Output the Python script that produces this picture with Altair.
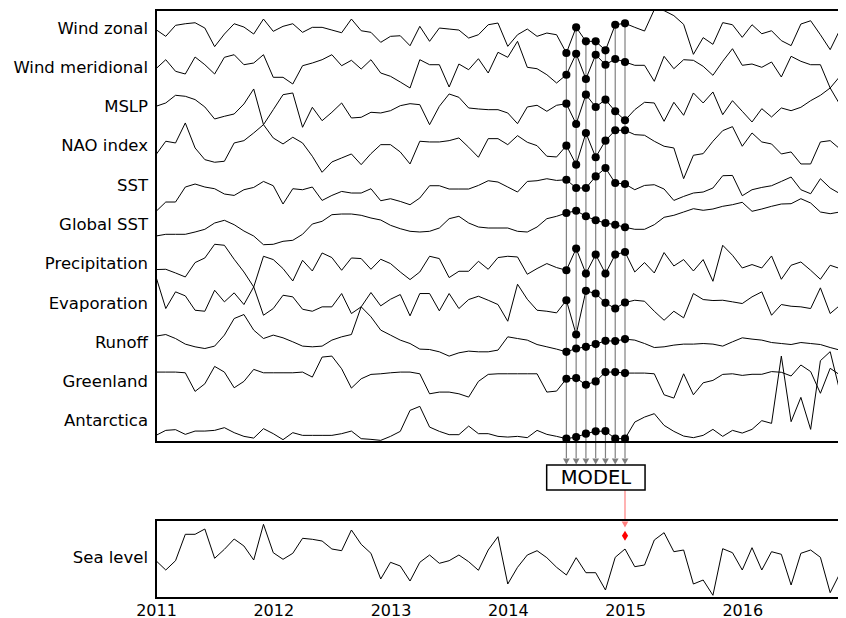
import altair as alt
import pandas as pd

# ---------------- data (anomalies, arbitrary units) -------------
series_names = ["Wind zonal", "Wind meridional", "MSLP", "NAO index", "SST", "Global SST",
                "Precipitation", "Evaporation", "Runoff", "Greenland", "Antarctica"]

wind_zonal = [
    0, -6.7, 4.3, 5.9, 6.9, 1.6, -17, -4.4, 5.9, 2.6, -4.4, 10.6, -1.7, 3.3, 5.9, -2.7, 2.3, 2.3, -0.4, -3.1, 10.6, -1.1, -2.7, -12.7,
    -6.7, -6.1, -16.1, 3.3, -11.7, 1.6, 0.6, -0.4, -8.4, -5.1, 4.9, 6.6, -16.7, -5.1, 0.6, -6.7, -3.4, -5.1, -23.4, 2.3, -11.7, -11.7, -20.7, 4.9,
    6.3, 2.3, -1.4, 20, 19, 14, 5.3, -24.7, -8, -14.7, 7, 4.9, -7.7, 4.9, -4.1, -1.1, -11, -16, 5.6, 8.9, -5.1, -20, 0, 8]
wind_meridional = [
    0.2, 9.2, -2.4, -5.1, 11.9, 4.2, -5.1, 11.6, 14.2, 4.2, 5.9, 14.2, -8.4, -8.4, -15.1, 3.2, 5.9, 9.2, 14.2, 3.2, 8.6, -0.1, 9.2, -4.1,
    -7.4, -13.1, -19.1, 9.2, 4.2, 4.2, -18.1, 4.9, -0.8, 10.2, -4.1, 16.6, 11.6, 27.6, 1.6, 0.2, -5.8, -14.1, -5.8, 15.2, -10.1, 14.2, 4.2, 9.9,
    6.9, 3.6, 3.6, -12.4, 12.6, 0.2, 9.2, 8.6, 2.6, -6.4, 7.6, 20.2, 3.6, 4.9, 1.6, 6.9, -8.1, 12.6, 7.6, 4.2, 4.2, -19.1, -35.8, -29]
mslp = [
    1.9, 5.2, 12.9, 11.9, 8.6, 1.2, -10.8, -8.1, -5.8, 4.2, 19.2, -16.5, -1.5, 13.5, 15.2, -19.1, 0.9, -12.5, -4.1, 5.2, -9.8, -9.1, -4.1, -4.8,
    -2.5, 2.5, 4.5, 3.5, -16.5, 1.9, 14.2, 10.9, 0.2, -0.8, -1.5, -1.5, -4.8, -15.5, 1.2, 2.9, -3.1, 2.9, 4.5, -15.8, 13.5, 1.2, 8.5, -3.1,
    -12.1, -1.5, 5.9, 5.2, -13.1, 5.9, -7.1, 15.2, 5.2, 16.2, -6.5, 7.5, -3.1, -13.8, -0.5, -8.8, 0.2, -2.5, 0.9, 7.5, 12.9, 20.2, 31.9, 36]
nao_index = [
    -7.2, 6.2, 4.5, 24.5, -0.5, -12.2, -14.8, -13.8, 4.5, 6.8, 14.5, 22.8, 9.5, 3.5, 10.2, 4.5, -8.8, -24.8, -14.5, -10.5, -6.5, -17.2, -6.2, 2.8,
    2.8, -4.5, -16.5, 6.2, 5.5, 5.5, 6.8, 9.5, 0.2, -9.8, 8.8, 8.8, 2.8, 11.8, 5.2, 1.8, -8.8, -9.5, 1.8, -17.2, 14.5, -9.8, 6.8, 17.2,
    17.2, 12.8, 12.2, 6.2, 1.2, -0.5, -31.2, -7.8, -6.2, 6.2, 16.8, 20.8, 1.2, 14.5, 5.5, 3.5, -6.5, -4.5, -16.5, -16.5, 5.5, 6.8, -1.5, 4.5]
sst = [
    -24.7, -15.3, -15.3, -0.3, 2.7, -0.3, -2, -7.3, -8.7, -3, -0.7, 5.3, 1, -17.3, -2, -3, -0.3, -13.7, -8.7, -4.7, -6.3, -6.3, -2, -14,
    -12, -14.7, -18, -11.3, 1, 1, -2.3, -2.3, -2.3, 1.3, 6, 4.7, -0.3, -5.3, 5.3, 6, 8, 6.3, 7, -1.3, -1.3, 10.3, 18.7, 3.7,
    2.7, -3, 1.3, 2, -2.3, -13.7, -9.7, -6.3, -5.3, -1.3, 11, 11.3, -9, -3, -0.7, 1, 5.3, 9.7, -3, -7, 8, -1.3, -7, -1.3]
global_sst = [
    -10, -8.3, -8.3, -8.3, -6, -3.3, 3, 5.7, 1.3, -5, -10, -18.7, -18.3, -15.3, -14.3, -8.3, 2, 4.7, 11.3, 12, 12, 10.7, 8, 6,
    0.7, -2.7, -5.3, -6, -5.3, -2, 7.3, 9.7, 3, -1, -2, -2, -2, -5.3, -6, -1, 7.3, 9.7, 13, 15.3, 9.7, 5.7, 3, 1.3,
    -1.3, -3.3, -3.3, 1.3, 8.7, 10.7, 14, 17.3, 15.7, 17, 19.7, 21.3, 23.7, 14.7, 17, 19.7, 22, 22.3, 27.3, 23, 14, 12.3, 14, 15.3]
precipitation = [
    -4.3, -4, -7.7, -11.7, 2.7, 7.3, 21, 20, 6, -6.7, -21.7, 9, 5.7, -3.3, -15.7, 5, -5.7, 12.3, 7.7, -5, 7.3, 6.7, -4, 6,
    1.7, -6.7, -14.3, -6.7, 9, 6.7, -12.3, -6, -6, 4, -4, 7.7, 9, 8.3, -9, -3.3, 1.7, -2.3, -5, 16.7, -8.3, 10.7, -8.3, 10.7,
    13.3, -6.7, 2.7, -7.7, 12.7, -0.7, 5.7, -5.7, 5.7, -16, 20, 10, -2.7, 0.7, -2.7, 9.3, -14, 0, 3.3, -5, -14, 0, -3.3, -9.3]
evaporation = [
    27.7, -4, 12.7, 8.7, -5.7, -6.7, 14.3, 2.7, 11.7, 0, 17.7, -10.7, -4, 9.3, 7.7, -4.7, -6.7, -2.3, -2.3, 11, -9, -2.3, 12, -1.3,
    5.3, 10, -11.3, 11, 11, -6.3, 11, -4, 5, 8.3, 4.3, 0, -16.7, 20.3, 5.3, -5.7, -6.7, -8.3, 4.3, -30, 13.7, 11, 1.7, -4,
    2, 4.3, 3.3, -6.7, -15.7, -6.7, -13.3, 11, 5, 4, 4.3, 2.7, 1, 7.7, 12.7, -10.7, 0, -1.7, -2.3, -4, 16.7, -9, -0.7, 11]
runoff = [
    7.7, 9.3, 5.3, -0.3, -3, -4.7, -2.3, 8.7, 25.3, 29.3, 13.7, 5.3, 8.7, 6, 2, -2.3, -3, -2.3, 3.7, 7, 9.3, 37, 27, 13.7,
    8.7, 3.7, 0.3, -5.3, -5.7, -8, -12.3, -9, -7.3, -8, -8, -6.3, 7, 5.3, 3.7, -0.7, -3, -5.3, -8, -4.7, -3, -0.3, 3, 2.7,
    4.7, 3.7, 0.3, -3.7, -3, -1.3, -0.3, -0.3, 0.3, -0.3, -2.3, 2, 6, 4.7, 3.7, 1.3, 0.3, -0.7, 1.3, 0.3, -0.7, -3.7, -6.3, -8]
greenland = [
    11, 11, 11, 10.3, -8.3, -0.7, 16.7, 11, -4.7, 1.7, 13.7, 10.3, 10.3, 10.3, 10.3, 11, 6, 26, 27, 14.3, -5, 4.3, 8.7, 9.3,
    10.3, 11, 11, 9.3, -10.7, -9, -9, -10.7, -14, 1.7, 8.7, 9.3, 9.3, 9.3, 9.3, 9.3, -9, -8, 4.3, 5, -1.7, 1.7, 11, 11,
    10, 10, 10, 9.3, -11.7, -15, 9.3, -11.7, 0.3, 2.7, 8.7, 9.3, 7.7, 8.8, 8.8, 11.5, 10.8, 7.1, 18.1, 11.5, -10.2, 14.8, 8.1, 9.8]
antarctica = [
    -13, -8, -7.3, -12, -8.7, -8.7, -8, -5.3, -10.3, -14, -15.7, -6.3, -11.3, -17.3, -10.3, -13, -13, -13, -13, -11.3, -8.7, -16.3, -17, -18,
    -14, -9, 12, 16, -4.7, -9, -12.3, -12.3, -3.7, -11.3, -11.3, -14, -14.7, -14, -15.3, -8, -12, -14, -16.3, -14.7, -11.3, -9, -8.7, -16.3,
    -16.3, 0.3, 5.3, 8.7, -3, -9, -13.7, -15.3, -13, -7, -14, -8, -10.7, -7, 1.7, -1, 66.3, 0.7, 25, -7, 61.7, 70.7, 30.7, 10.7]
sea_level = [
    -1.7, -11, -1.7, 24.7, 24.7, 30, 0.7, 9.7, 20, 13, -1, 34.7, 6.3, -0.3, 5.7, 20.7, 19.7, 18, 10, 8.3, 29, 14.7, 5.7, -20,
    -3.3, -7, -22, -3.3, 4, -4.3, -1.7, 4, -2.7, -11.3, 9, 22.3, -25, -8.3, 4, 8.3, 1.3, -8.3, -16, 1.3, -13.7, -13.7, -31, 1.7,
    10, -7.7, -6, 19, 26.3, 7.3, 9, -25, -21, -36.3, 10.3, 6.3, -11, 11.3, -11, 7.3, 4.7, -26, 5.7, 9, 1.7, -33.7, -14.3, 2.3]
sea_level_label = "Sea level"
sea_level_prediction = 23.3          # predicted value for the target month
prediction_month = 48                # index of Jan 2015
input_months = [42, 43, 44, 45, 46, 47, 48]   # Jul 2014 .. Jan 2015
model_label = "MODEL"
year_ticks = [2011, 2012, 2013, 2014, 2015, 2016]
start_year = 2011

series_values = [wind_zonal, wind_meridional, mslp, nao_index, sst, global_sst,
                 precipitation, evaporation, runoff, greenland, antarctica]

# ---------------- layout (vertical units of the stacked plot) ----------------
ROW = 432 / 11
TOP = 588
TOP_PANEL_BOTTOM = 156
SEA_CENTER = 39
SEA_PANEL_TOP = 78
PLOT_W = 682
X_END = start_year + PLOT_W / 117.25
FONT = "DejaVu Sans"

def month_to_t(i):
    return start_year + i / 12

records = []
labels = []
for k, (name, vals) in enumerate(zip(series_names, series_values)):
    center = TOP - ROW * (k + 0.5)
    labels.append({"name": name, "pos": center})
    for i, v in enumerate(vals):
        records.append({"series": name, "i": i, "t": month_to_t(i), "value": v, "pos": center + v})
for i, v in enumerate(sea_level):
    records.append({"series": sea_level_label, "i": i, "t": month_to_t(i), "value": v, "pos": SEA_CENTER + v})
labels.append({"name": sea_level_label, "pos": SEA_CENTER})

df = pd.DataFrame(records)
lab_df = pd.DataFrame(labels)
dots_df = df[(df.series != sea_level_label) & (df.i.isin(input_months))]
top_df = df[(df.series == series_names[0]) & (df.i.isin(input_months))].copy()
top_df["end"] = 140
top_df["arrow"] = 136.5

pred_df = pd.DataFrame({"t": [month_to_t(prediction_month)],
                        "pos": [SEA_CENTER + sea_level_prediction],
                        "box": [108], "lineend": [77], "arrow": [73.5]})
box_df = pd.DataFrame({"x": [2014.332], "x2": [2015.171], "y": [108], "y2": [133],
                       "tx": [2014.752], "ty": [120.5], "label": [model_label]})
frame_df = pd.DataFrame({"x": [start_year, start_year], "x2": [X_END + 0.06, X_END + 0.06],
                         "y": [TOP_PANEL_BOTTOM, 0], "y2": [TOP, SEA_PANEL_TOP]})

x_scale = alt.Scale(domain=[start_year, X_END], nice=False, zero=False)
y_scale = alt.Scale(domain=[0, TOP], nice=False, zero=False)
x_axis = alt.Axis(values=year_ticks, format="d", labelFontSize=16, labelFont=FONT,
                  labelColor="black", domain=False, ticks=False, grid=False, title=None,
                  labelPadding=4, labelFlush=False, labelOverlap=False)

def X(f):
    return alt.X(f, type="quantitative", scale=x_scale, axis=x_axis)

def X2(f):
    return alt.X2(f)

def Y(f):
    return alt.Y(f, type="quantitative", scale=y_scale, axis=None)

lines = alt.Chart(df).mark_line(color="black", strokeWidth=1, clip=True).encode(
    x=X("t"), y=Y("pos"), detail="series:N")

rules = alt.Chart(top_df).mark_rule(color="#808080", strokeWidth=1.2).encode(
    x=X("t"), y=Y("pos"), y2=alt.Y2("end"))

dots = alt.Chart(dots_df).mark_circle(color="black", size=66, opacity=1).encode(
    x=X("t"), y=Y("pos"))

arrows = alt.Chart(top_df).mark_point(shape="triangle-down", filled=True, color="#6e6e6e",
                                      size=45, opacity=0.9).encode(x=X("t"), y=Y("arrow"))

red_line = alt.Chart(pred_df).mark_rule(color="#ff0000", opacity=0.5, strokeWidth=1.2).encode(
    x=X("t"), y=Y("box"), y2=alt.Y2("lineend"))
red_arrow = alt.Chart(pred_df).mark_point(shape="triangle-down", filled=True, color="#ff0000",
                                          opacity=0.5, size=45).encode(x=X("t"), y=Y("arrow"))
diamond = alt.Chart(pred_df).mark_point(shape="M0,-1L0.62,0L0,1L-0.62,0Z", filled=True,
                                        color="#ff0000", opacity=1, size=100).encode(
    x=X("t"), y=Y("pos"))

box = alt.Chart(box_df).mark_rect(fill="white", stroke="black", strokeWidth=1.5).encode(
    x=X("x"), x2=X2("x2"), y=Y("y"), y2=alt.Y2("y2"))
box_text = alt.Chart(box_df).mark_text(font=FONT, fontSize=19.5, color="black",
                                       align="center", baseline="middle").encode(
    x=X("tx"), y=Y("ty"), text="label:N")

frames = alt.Chart(frame_df).mark_rect(fillOpacity=0, stroke="black", strokeWidth=2).encode(
    x=X("x"), x2=X2("x2"), y=Y("y"), y2=alt.Y2("y2"))

names = alt.Chart(lab_df).mark_text(font=FONT, fontSize=16.5, color="black",
                                    align="right", baseline="middle", dy=-1).encode(
    x=alt.value(-8), y=Y("pos"), text="name:N")

chart = alt.layer(lines, rules, dots, arrows, red_line, red_arrow, diamond, box, box_text,
                  frames, names).properties(
    width=PLOT_W, height=588, autosize="none",
    padding={"left": 148, "top": 2, "right": 0, "bottom": 20},
    background="white",
).configure_view(stroke=None)

chart.save("out.html", embed_options={"renderer": "svg", "actions": False})
